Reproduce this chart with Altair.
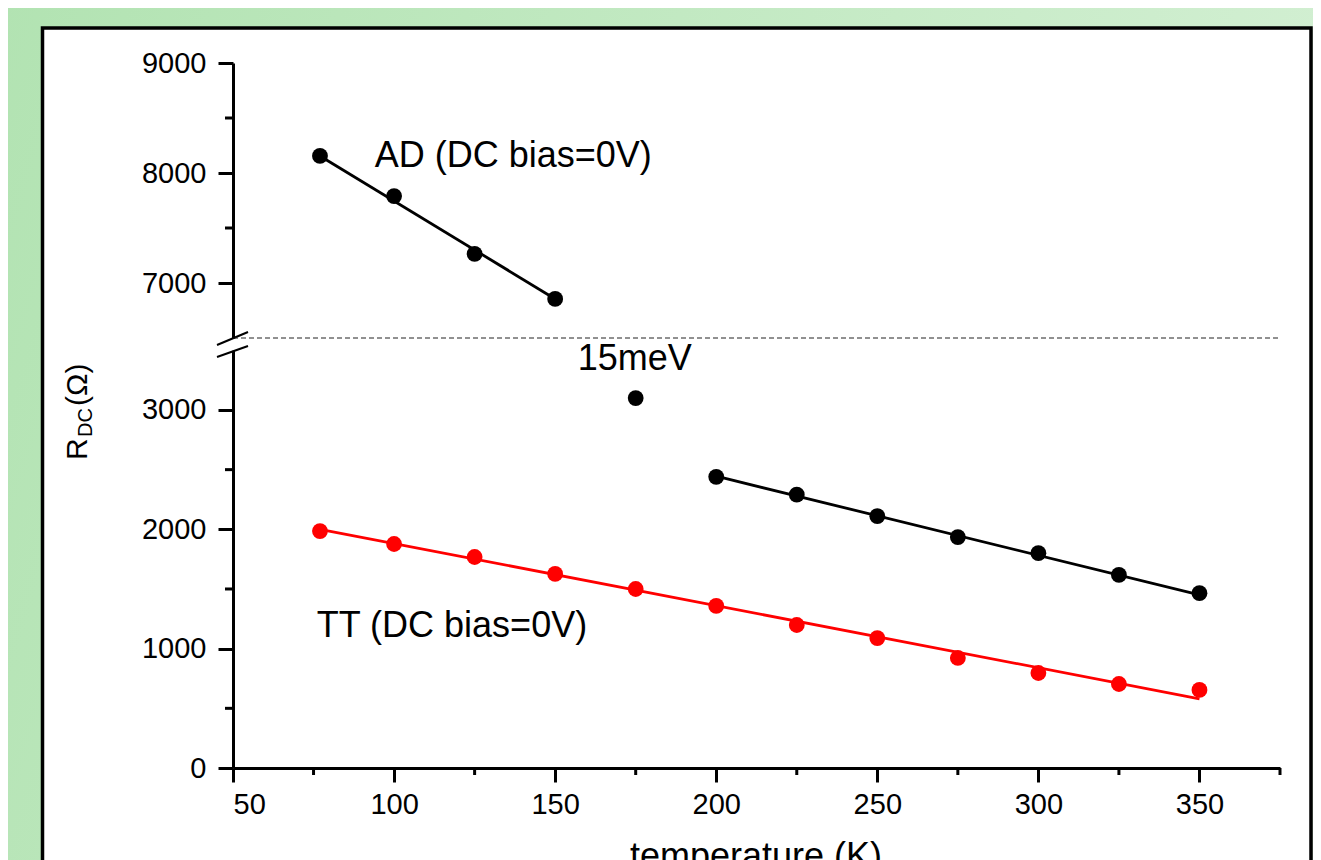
import altair as alt
import pandas as pd

FONT = "Liberation Sans"

# ---------------- data ----------------
# upper (broken) segment: AD, DC bias = 0V, low temperatures
ad_low_temp = [77, 100, 125, 150]
ad_low_r = [8155, 7790, 7265, 6855]
ad_low_fit_temp = [77, 150]
ad_low_fit_r = [8155, 6855]

# lower segment: AD at high temperature
ad_high_temp = [200, 225, 250, 275, 300, 325, 350]
ad_high_r = [2440, 2290, 2110, 1935, 1800, 1618, 1465]
ad_high_fit_temp = [200, 350]
ad_high_fit_r = [2445, 1450]

# isolated point (15meV)
mid_temp = [175]
mid_r = [3100]

# TT, DC bias = 0V
tt_temp = [77, 100, 125, 150, 175, 200, 225, 250, 275, 300, 325, 350]
tt_r = [1985, 1877, 1768, 1626, 1500, 1358, 1198, 1089, 922, 796, 704, 654]
tt_fit_temp = [77, 350]
tt_fit_r = [2000, 580]

# axes
x_ticks = [50, 100, 150, 200, 250, 300, 350]
x_minor = [75, 125, 175, 225, 275, 325, 375]
upper_ticks = [7000, 8000, 9000]
upper_minor = [7500, 8500]
lower_ticks = [0, 1000, 2000, 3000]
lower_minor = [500, 1500, 2500]

# annotations (data coordinates)
upper_label_text = ["AD (DC bias=0V)"]
upper_label_x = [94]
upper_label_y = [8055]
lower_label_text = ["15meV", "TT (DC bias=0V)"]
lower_label_x = [157, 76]
lower_label_y = [3335, 1098]

# ---------------- layout constants ----------------
W, H = 1047, 705
BREAK_TOP = 275      # pixel where upper segment ends
BREAK_BOT = 287.3    # pixel where lower segment starts

X = alt.Scale(domain=[50, 375], nice=False, zero=False)
Y_UP = alt.Scale(domain=[6500, 9000], range=[BREAK_TOP, 0], nice=False, zero=False)
Y_LO = alt.Scale(domain=[0, 3500], range=[H, BREAK_BOT], nice=False, zero=False)

AX = dict(grid=False, zindex=2, labelFont=FONT, labelFontSize=29, labelColor="black",
          domainColor="black", domainWidth=3, tickColor="black", tickWidth=3,
          format="d", title="")

x_axis = alt.Axis(values=x_ticks, tickSize=14, labelPadding=8, orient="bottom", **AX)
up_axis = alt.Axis(values=upper_ticks, tickSize=15, labelPadding=12, orient="left", **AX)
lo_axis = alt.Axis(values=lower_ticks, tickSize=15, labelPadding=12, orient="left", **AX)


def xe(field="t"):
    return alt.X(f"{field}:Q", scale=X, axis=x_axis)


def yup(field="r"):
    return alt.Y(f"{field}:Q", scale=Y_UP, axis=up_axis)


def ylo(field="r"):
    return alt.Y(f"{field}:Q", scale=Y_LO, axis=lo_axis)


one = pd.DataFrame({"k": [0]})

# ---------------- background ----------------
bg = alt.Chart(one).mark_rect(
    fill=alt.LinearGradient(
        gradient="linear",
        stops=[alt.GradientStop(color="#b2e3b2", offset=0),
               alt.GradientStop(color="#d2efd2", offset=1)],
        x1=0, x2=1, y1=0, y2=0.2,
    )
).encode(x=alt.value(-233), x2=alt.value(1085), y=alt.value(-63), y2=alt.value(820))

panel = alt.Chart(one).mark_rect(fill="white", stroke="black", strokeWidth=3.5).encode(
    x=alt.value(-190.5), x2=alt.value(1078), y=alt.value(-35), y2=alt.value(830)
)

slash1 = alt.Chart(one).mark_rule(color="black", strokeWidth=2).encode(
    x=alt.value(-16), x2=alt.value(15), y=alt.value(282), y2=alt.value(269)
)
slash2 = alt.Chart(one).mark_rule(color="black", strokeWidth=2).encode(
    x=alt.value(-16), x2=alt.value(15), y=alt.value(294), y2=alt.value(283)
)

# axis titles (manual, because of the subscript)
ytitle_R = alt.Chart(one).mark_text(text="R", angle=270, align="left", baseline="alphabetic",
                                    font=FONT, fontSize=30, color="black").encode(
    x=alt.value(-146), y=alt.value(397))
ytitle_DC = alt.Chart(one).mark_text(text="DC", angle=270, align="left", baseline="alphabetic",
                                     font=FONT, fontSize=20, color="black").encode(
    x=alt.value(-141), y=alt.value(374))
ytitle_O = alt.Chart(one).mark_text(text="(Ω)", angle=270, align="left", baseline="alphabetic",
                                    font=FONT, fontSize=30, color="black").encode(
    x=alt.value(-146), y=alt.value(343))
xtitle = alt.Chart(one).mark_text(text="temperature (K)", align="center", baseline="alphabetic",
                                  font=FONT, fontSize=36, color="black").encode(
    x=alt.value(523), y=alt.value(805))

# x minor ticks (also carries the x axis)
xminor = alt.Chart(pd.DataFrame({"t": x_minor})).mark_rule(color="black", strokeWidth=3).encode(
    x=xe(), y=alt.value(H), y2=alt.value(H + 7)
)

# ---------------- upper segment ----------------
up_pts = pd.DataFrame({"t": ad_low_temp, "r": ad_low_r})
up_fit = pd.DataFrame({"t": ad_low_fit_temp, "r": ad_low_fit_r})
up_lab = pd.DataFrame({"t": upper_label_x, "r": upper_label_y, "s": upper_label_text})
up_min = pd.DataFrame({"r": upper_minor})
up_dash = pd.DataFrame({"t": [50], "t2": [375], "r": [6500]})

up_line = alt.Chart(up_fit).mark_line(color="black", strokeWidth=2.8).encode(x=xe(), y=yup())
up_point = alt.Chart(up_pts).mark_circle(color="black", size=250, opacity=1).encode(x=xe(), y=yup())
up_minor = alt.Chart(up_min).mark_rule(color="black", strokeWidth=3).encode(
    y=yup(), x=alt.value(-8), x2=alt.value(0))
up_text = alt.Chart(up_lab).mark_text(align="left", baseline="alphabetic", font=FONT,
                                      fontSize=36, color="black").encode(
    x=xe(), y=yup(), text="s:N")
dashed = alt.Chart(up_dash).mark_rule(color="#222222", strokeWidth=1, strokeDash=[5, 3]).encode(
    x=xe(), x2="t2:Q", y=yup())

upper = alt.layer(up_line, up_point, up_minor, up_text, dashed)

# ---------------- lower segment ----------------
lo_black = pd.DataFrame({"t": ad_high_temp + mid_temp, "r": ad_high_r + mid_r})
lo_black_fit = pd.DataFrame({"t": ad_high_fit_temp, "r": ad_high_fit_r})
lo_red = pd.DataFrame({"t": tt_temp, "r": tt_r})
lo_red_fit = pd.DataFrame({"t": tt_fit_temp, "r": tt_fit_r})
lo_lab = pd.DataFrame({"t": lower_label_x, "r": lower_label_y, "s": lower_label_text})
lo_min = pd.DataFrame({"r": lower_minor})

lo_bline = alt.Chart(lo_black_fit).mark_line(color="black", strokeWidth=2.8).encode(x=xe(), y=ylo())
lo_rline = alt.Chart(lo_red_fit).mark_line(color="#ff0000", strokeWidth=2.8).encode(x=xe(), y=ylo())
lo_bpts = alt.Chart(lo_black).mark_circle(color="black", size=250, opacity=1).encode(x=xe(), y=ylo())
lo_rpts = alt.Chart(lo_red).mark_circle(color="#ff0000", size=250, opacity=1).encode(x=xe(), y=ylo())
lo_minor = alt.Chart(lo_min).mark_rule(color="black", strokeWidth=3).encode(
    y=ylo(), x=alt.value(-8), x2=alt.value(0))
lo_text = alt.Chart(lo_lab).mark_text(align="left", baseline="alphabetic", font=FONT,
                                      fontSize=36, color="black").encode(
    x=xe(), y=ylo(), text="s:N")

lower = alt.layer(lo_bline, lo_rline, lo_bpts, lo_rpts, lo_minor, lo_text)

chart = alt.layer(
    bg, panel, slash1, slash2, ytitle_R, ytitle_DC, ytitle_O, xtitle, xminor, upper, lower
).resolve_scale(y="independent").properties(
    width=W, height=H,
    padding={"left": 225, "top": 55, "right": 33, "bottom": 92},
    autosize=alt.AutoSizeParams(type="none"),
    background="white",
).configure_view(stroke=None)

chart.save("out.html", embed_options={"renderer": "svg", "actions": False})
